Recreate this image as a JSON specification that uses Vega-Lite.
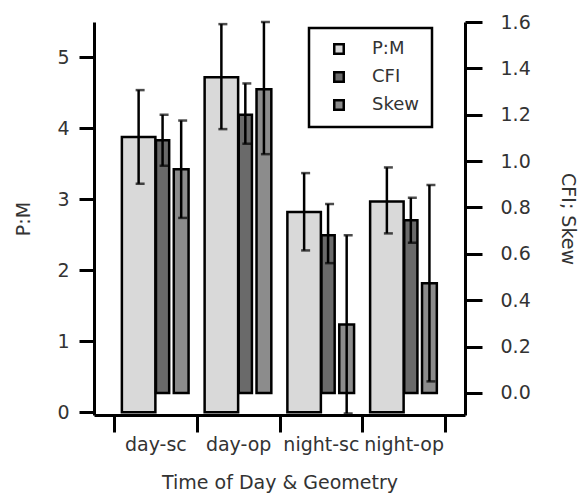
{
  "$schema": "https://vega.github.io/schema/vega-lite/v6.json",
  "width": 371,
  "height": 393,
  "autosize": {"type": "none"},
  "padding": {"left": 94, "top": 22, "right": 118, "bottom": 80},
  "background": "white",
  "config": {
    "view": {"stroke": null},
    "font": "DejaVu Sans",
    "axis": {
      "domainColor": "black",
      "domainWidth": 3,
      "tickColor": "black",
      "tickWidth": 3,
      "labelColor": "#333",
      "titleColor": "#333",
      "labelFont": "DejaVu Sans",
      "titleFont": "DejaVu Sans",
      "labelFontSize": 19,
      "titleFontSize": 19,
      "titleFontWeight": "normal",
      "grid": false
    }
  },
  "data": {
    "values": [
      {"group": "day-sc", "measure": "P:M", "value": 3.88, "lo": 3.22, "hi": 4.54},
      {"group": "day-sc", "measure": "CFI", "value": 1.09, "lo": 0.98, "hi": 1.2},
      {"group": "day-sc", "measure": "Skew", "value": 0.965, "lo": 0.755, "hi": 1.175},
      {"group": "day-op", "measure": "P:M", "value": 4.72, "lo": 3.99, "hi": 5.47},
      {"group": "day-op", "measure": "CFI", "value": 1.2, "lo": 1.075, "hi": 1.335},
      {"group": "day-op", "measure": "Skew", "value": 1.31, "lo": 1.03, "hi": 1.6},
      {"group": "night-sc", "measure": "P:M", "value": 2.82, "lo": 2.28, "hi": 3.37},
      {"group": "night-sc", "measure": "CFI", "value": 0.68, "lo": 0.56, "hi": 0.815},
      {"group": "night-sc", "measure": "Skew", "value": 0.295, "lo": -0.088, "hi": 0.68},
      {"group": "night-op", "measure": "P:M", "value": 2.97, "lo": 2.52, "hi": 3.45},
      {"group": "night-op", "measure": "CFI", "value": 0.745, "lo": 0.648, "hi": 0.842},
      {"group": "night-op", "measure": "Skew", "value": 0.473, "lo": 0.05, "hi": 0.897}
    ]
  },
  "encoding": {
    "x": {
      "field": "group",
      "type": "nominal",
      "scale": {"domain": ["day-sc", "day-op", "night-sc", "night-op"], "paddingInner": 0, "paddingOuter": 0.2417},
      "axis": {"title": "Time of Day & Geometry", "labelAngle": 0, "tickBand": "extent", "tickSize": 17, "labelPadding": 3, "titlePadding": 19}
    }
  },
  "layer": [
    {
      "transform": [{"filter": "datum.measure === 'P:M'"}],
      "layer": [
        {
          "mark": {"type": "bar", "width": 33.5, "xOffset": -16.75, "stroke": "black", "strokeWidth": 2.5},
          "encoding": {
            "y": {"field": "value", "type": "quantitative", "scale": {"domain": [-0.04, 5.5], "zero": false, "nice": false},
              "axis": {"orient": "left", "values": [0, 1, 2, 3, 4, 5], "format": "d", "title": "P:M", "tickSize": 15, "labelPadding": 10, "titlePadding": 23}},
            "color": {"field": "measure", "type": "nominal",
              "scale": {"domain": ["P:M", "CFI", "Skew"], "range": ["#d9d9d9", "#6a6a6a", "#8c8c8c"]},
              "legend": {"title": null, "orient": "none", "legendX": 215, "legendY": 6, "symbolType": "square", "symbolSize": 90, "symbolStrokeColor": "black", "symbolStrokeWidth": 2.5, "labelFontSize": 18, "labelColor": "#333", "labelFont": "DejaVu Sans", "strokeColor": "black", "padding": 12, "rowPadding": 8, "labelOffset": 24, "symbolOffset": 9, "encode": {"legend": {"update": {"strokeWidth": {"value": 2.5}}}}}}
          }
        },
        {
          "mark": {"type": "rule", "strokeWidth": 2.5, "color": "black", "xOffset": -16.75},
          "encoding": {
            "y": {"field": "lo", "type": "quantitative", "scale": {"domain": [-0.04, 5.5], "zero": false, "nice": false},
              "axis": {"orient": "left", "values": [0, 1, 2, 3, 4, 5], "format": "d", "title": "P:M", "tickSize": 15, "labelPadding": 10, "titlePadding": 23}},
            "y2": {"field": "hi"}
          }
        },
        {
          "mark": {"type": "tick", "color": "black", "size": 9, "thickness": 2.5, "xOffset": -15.25},
          "encoding": {
            "y": {"field": "hi", "type": "quantitative", "scale": {"domain": [-0.04, 5.5], "zero": false, "nice": false},
              "axis": {"orient": "left", "values": [0, 1, 2, 3, 4, 5], "format": "d", "title": "P:M", "tickSize": 15, "labelPadding": 10, "titlePadding": 23}}
          }
        },
        {
          "mark": {"type": "tick", "color": "black", "size": 9, "thickness": 2.5, "xOffset": -15.25},
          "encoding": {
            "y": {"field": "lo", "type": "quantitative", "scale": {"domain": [-0.04, 5.5], "zero": false, "nice": false},
              "axis": {"orient": "left", "values": [0, 1, 2, 3, 4, 5], "format": "d", "title": "P:M", "tickSize": 15, "labelPadding": 10, "titlePadding": 23}}
          }
        }
      ]
    },
    {
      "transform": [{"filter": "datum.measure !== 'P:M'"}],
      "layer": [
        {
          "transform": [{"filter": "datum.measure === 'CFI'"}],
          "mark": {"type": "bar", "width": 13.2, "xOffset": 7.2, "stroke": "black", "strokeWidth": 2.5},
          "encoding": {
            "y": {"field": "value", "type": "quantitative", "scale": {"domain": [-0.095, 1.6], "zero": false, "nice": false},
              "axis": {"orient": "right", "values": [0, 0.2, 0.4, 0.6, 0.8, 1.0, 1.2, 1.4, 1.6], "format": ".1f", "title": "CFI; Skew", "tickSize": 17, "labelPadding": 18, "titlePadding": 27}},
            "color": {"field": "measure", "type": "nominal",
              "scale": {"domain": ["P:M", "CFI", "Skew"], "range": ["#d9d9d9", "#6a6a6a", "#8c8c8c"]},
              "legend": {"title": null, "orient": "none", "legendX": 215, "legendY": 6, "symbolType": "square", "symbolSize": 90, "symbolStrokeColor": "black", "symbolStrokeWidth": 2.5, "labelFontSize": 18, "labelColor": "#333", "labelFont": "DejaVu Sans", "strokeColor": "black", "padding": 12, "rowPadding": 8, "labelOffset": 24, "symbolOffset": 9, "encode": {"legend": {"update": {"strokeWidth": {"value": 2.5}}}}}}
          }
        },
        {
          "transform": [{"filter": "datum.measure === 'Skew'"}],
          "mark": {"type": "bar", "width": 14.8, "xOffset": 25.8, "stroke": "black", "strokeWidth": 2.5},
          "encoding": {
            "y": {"field": "value", "type": "quantitative", "scale": {"domain": [-0.095, 1.6], "zero": false, "nice": false},
              "axis": {"orient": "right", "values": [0, 0.2, 0.4, 0.6, 0.8, 1.0, 1.2, 1.4, 1.6], "format": ".1f", "title": "CFI; Skew", "tickSize": 17, "labelPadding": 18, "titlePadding": 27}},
            "color": {"field": "measure", "type": "nominal",
              "scale": {"domain": ["P:M", "CFI", "Skew"], "range": ["#d9d9d9", "#6a6a6a", "#8c8c8c"]},
              "legend": {"title": null, "orient": "none", "legendX": 215, "legendY": 6, "symbolType": "square", "symbolSize": 90, "symbolStrokeColor": "black", "symbolStrokeWidth": 2.5, "labelFontSize": 18, "labelColor": "#333", "labelFont": "DejaVu Sans", "strokeColor": "black", "padding": 12, "rowPadding": 8, "labelOffset": 24, "symbolOffset": 9, "encode": {"legend": {"update": {"strokeWidth": {"value": 2.5}}}}}}
          }
        },
        {
          "transform": [{"filter": "datum.measure === 'CFI'"}],
          "mark": {"type": "rule", "strokeWidth": 2.5, "color": "black", "xOffset": 7.2},
          "encoding": {
            "y": {"field": "lo", "type": "quantitative", "scale": {"domain": [-0.095, 1.6], "zero": false, "nice": false},
              "axis": {"orient": "right", "values": [0, 0.2, 0.4, 0.6, 0.8, 1.0, 1.2, 1.4, 1.6], "format": ".1f", "title": "CFI; Skew", "tickSize": 17, "labelPadding": 18, "titlePadding": 27}},
            "y2": {"field": "hi"}
          }
        },
        {
          "transform": [{"filter": "datum.measure === 'Skew'"}],
          "mark": {"type": "rule", "strokeWidth": 2.5, "color": "black", "xOffset": 25.8},
          "encoding": {
            "y": {"field": "lo", "type": "quantitative", "scale": {"domain": [-0.095, 1.6], "zero": false, "nice": false},
              "axis": {"orient": "right", "values": [0, 0.2, 0.4, 0.6, 0.8, 1.0, 1.2, 1.4, 1.6], "format": ".1f", "title": "CFI; Skew", "tickSize": 17, "labelPadding": 18, "titlePadding": 27}},
            "y2": {"field": "hi"}
          }
        },
        {
          "transform": [{"filter": "datum.measure === 'CFI'"}],
          "mark": {"type": "tick", "color": "black", "size": 9, "thickness": 2.5, "xOffset": 8.7},
          "encoding": {
            "y": {"field": "hi", "type": "quantitative", "scale": {"domain": [-0.095, 1.6], "zero": false, "nice": false},
              "axis": {"orient": "right", "values": [0, 0.2, 0.4, 0.6, 0.8, 1.0, 1.2, 1.4, 1.6], "format": ".1f", "title": "CFI; Skew", "tickSize": 17, "labelPadding": 18, "titlePadding": 27}}
          }
        },
        {
          "transform": [{"filter": "datum.measure === 'CFI'"}],
          "mark": {"type": "tick", "color": "black", "size": 9, "thickness": 2.5, "xOffset": 8.7},
          "encoding": {
            "y": {"field": "lo", "type": "quantitative", "scale": {"domain": [-0.095, 1.6], "zero": false, "nice": false},
              "axis": {"orient": "right", "values": [0, 0.2, 0.4, 0.6, 0.8, 1.0, 1.2, 1.4, 1.6], "format": ".1f", "title": "CFI; Skew", "tickSize": 17, "labelPadding": 18, "titlePadding": 27}}
          }
        },
        {
          "transform": [{"filter": "datum.measure === 'Skew'"}],
          "mark": {"type": "tick", "color": "black", "size": 9, "thickness": 2.5, "xOffset": 27.3},
          "encoding": {
            "y": {"field": "hi", "type": "quantitative", "scale": {"domain": [-0.095, 1.6], "zero": false, "nice": false},
              "axis": {"orient": "right", "values": [0, 0.2, 0.4, 0.6, 0.8, 1.0, 1.2, 1.4, 1.6], "format": ".1f", "title": "CFI; Skew", "tickSize": 17, "labelPadding": 18, "titlePadding": 27}}
          }
        },
        {
          "transform": [{"filter": "datum.measure === 'Skew'"}],
          "mark": {"type": "tick", "color": "black", "size": 9, "thickness": 2.5, "xOffset": 27.3},
          "encoding": {
            "y": {"field": "lo", "type": "quantitative", "scale": {"domain": [-0.095, 1.6], "zero": false, "nice": false},
              "axis": {"orient": "right", "values": [0, 0.2, 0.4, 0.6, 0.8, 1.0, 1.2, 1.4, 1.6], "format": ".1f", "title": "CFI; Skew", "tickSize": 17, "labelPadding": 18, "titlePadding": 27}}
          }
        }
      ]
    }
  ],
  "resolve": {"scale": {"y": "independent"}}
}
